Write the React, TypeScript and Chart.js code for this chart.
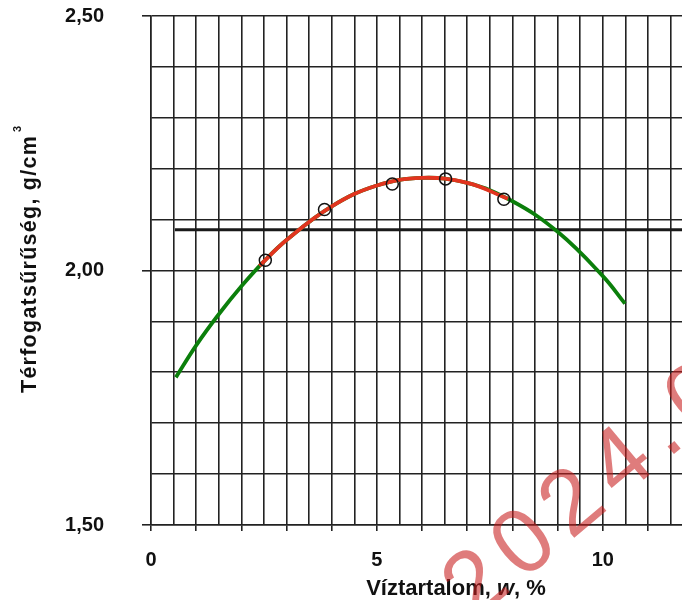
import React, { useEffect, useRef } from 'react';
import { Chart, registerables } from 'chart.js';

Chart.register(...registerables);

// Tick labels shown on the axes
const xTicksLabelled = [0, 5, 10];
const yTicksLabelled = [1.5, 2.0, 2.5];

// Measured points (water content %, bulk density g/cm3)
const measuredW = [2.53, 3.84, 5.34, 6.52, 7.81];
const measuredRho = [2.02, 2.12, 2.17, 2.18, 2.14];

// Fitted curve (green, full length)
const fitW = [0.55, 1, 1.5, 2, 2.5, 3, 4, 5, 6, 7, 8, 9, 10, 10.49];
const fitRho = [1.79, 1.853, 1.914, 1.969, 2.018, 2.06, 2.126, 2.167, 2.182, 2.172, 2.136, 2.076, 1.989, 1.935];

// Fitted curve over the measured range (red)
const fitRedW = [2.4, 3, 4, 5, 6, 7, 7.9];
const fitRedRho = [2.009, 2.06, 2.126, 2.167, 2.182, 2.172, 2.141];

// Horizontal reference line
const refLineW = [0.53, 13.5];
const refLineRho = [2.08, 2.08];

const FONT = "Arial, 'Liberation Sans', Helvetica, sans-serif";

const pt = (xs: number[], ys: number[]) => xs.map((x, i) => ({ x, y: ys[i] }));

const textPlugin = {
  id: 'customTexts',
  afterDraw(chart: any) {
    const ctx = chart.ctx as CanvasRenderingContext2D;
    const area = chart.chartArea;
    // X axis title with italic "w"
    ctx.save();
    ctx.fillStyle = '#111';
    ctx.textBaseline = 'alphabetic';
    ctx.textAlign = 'left';
    const parts: [string, string][] = [
      ['Víztartalom, ', `bold 22px ${FONT}`],
      ['w', `italic bold 22px ${FONT}`],
      [', %', `bold 22px ${FONT}`],
    ];
    let total = 0;
    for (const [t, f] of parts) { ctx.font = f; total += ctx.measureText(t).width; }
    let x = (area.left + area.right) / 2 - total / 2;
    for (const [t, f] of parts) { ctx.font = f; ctx.fillText(t, x, 595); x += ctx.measureText(t).width; }
    ctx.restore();

    // Y axis title
    ctx.save();
    ctx.fillStyle = '#111';
    ctx.translate(36, 393);
    ctx.rotate(-Math.PI / 2);
    ctx.textAlign = 'left';
    ctx.textBaseline = 'alphabetic';
    const main = 'Térfogatsűrűség, g/cm';
    ctx.font = `bold 21.5px ${FONT}`;
    const natural = ctx.measureText(main).width;
    const ls = Math.max(0, (258 - natural) / main.length);
    (ctx as any).letterSpacing = `${ls}px`;
    ctx.fillText(main, 0, 0);
    const w = ctx.measureText(main).width;
    (ctx as any).letterSpacing = '0px';
    ctx.font = `bold 11px ${FONT}`;
    ctx.fillText('3', w + 3, -15);
    ctx.restore();

    // Watermark
    ctx.save();
    ctx.fillStyle = 'rgba(200,30,30,0.58)';
    ctx.font = `normal 92px ${FONT}`;
    (ctx as any).letterSpacing = '12px';
    ctx.translate(474, 622);
    ctx.rotate((-40 * Math.PI) / 180);
    ctx.textBaseline = 'alphabetic';
    ctx.textAlign = 'left';
    ctx.fillText('2024.0', 0, 0);
    ctx.restore();
  },
};

export default function App() {
  const ref = useRef<HTMLCanvasElement>(null);
  useEffect(() => {
    const canvas = ref.current!;
    const gridColor = '#222';
    const near = (v: number, arr: number[]) => arr.some((a) => Math.abs(a - v) < 1e-6);
    const chart = new Chart(canvas, {
      type: 'scatter',
      data: {
        datasets: [
          {
            label: 'Mért pontok',
            data: pt(measuredW, measuredRho),
            showLine: false,
            pointRadius: 6,
            pointHoverRadius: 6,
            pointBorderColor: '#111',
            pointBorderWidth: 1.5,
            pointBackgroundColor: 'rgba(0,0,0,0)',
            order: 0,
          },
          {
            label: 'Illesztés (mért tartomány)',
            data: pt(fitRedW, fitRedRho),
            showLine: true,
            borderColor: '#e2341f',
            borderWidth: 3.8,
            pointRadius: 0,
            tension: 0.4,
            order: 1,
          },
          {
            label: 'Illesztés',
            data: pt(fitW, fitRho),
            showLine: true,
            borderColor: '#0b7f0b',
            borderWidth: 3.8,
            pointRadius: 0,
            tension: 0.4,
            order: 2,
          },
          {
            label: 'Referencia',
            data: pt(refLineW, refLineRho),
            showLine: true,
            borderColor: '#1a1a1a',
            borderWidth: 3,
            pointRadius: 0,
            tension: 0,
            order: 3,
          },
        ],
      },
      options: {
        responsive: false,
        animation: false,
        devicePixelRatio: 1,
        layout: { autoPadding: false, padding: { top: 16, left: 0, right: 0, bottom: 0 } },
        plugins: { legend: { display: false }, tooltip: { enabled: false } },
        scales: {
          x: {
            type: 'linear',
            min: 0,
            max: 13.5,
            afterFit: (s: any) => {
              s.height = 75;
              s.paddingLeft = 0; s.paddingRight = 0; s.paddingTop = 0; s.paddingBottom = 0;
            },
            border: { display: true, color: gridColor, width: 1.5 },
            grid: {
              color: gridColor,
              lineWidth: 1.6,
              tickLength: 6,
              tickWidth: 1.6,
              tickColor: (c: any) => (Math.abs(c.tick.value - Math.round(c.tick.value)) < 1e-6 ? gridColor : 'rgba(0,0,0,0)'),
            },
            ticks: {
              stepSize: 0.5,
              maxTicksLimit: 1000,
              autoSkip: false,
              maxRotation: 0,
              padding: 17,
              color: '#111',
              font: { family: FONT, size: 20, weight: 'bold' },
              callback: (v: any) => (near(Number(v), xTicksLabelled) ? String(Math.round(Number(v))) : ''),
            },
          },
          y: {
            type: 'linear',
            min: 1.5,
            max: 2.5,
            afterFit: (s: any) => {
              s.width = 151;
              s.paddingLeft = 0; s.paddingRight = 0; s.paddingTop = 0; s.paddingBottom = 0;
            },
            border: { display: true, color: gridColor, width: 1.5 },
            grid: {
              color: gridColor,
              lineWidth: 1.6,
              tickLength: 9,
              tickWidth: 1.6,
              tickColor: (c: any) => (near(c.tick.value, yTicksLabelled) ? gridColor : 'rgba(0,0,0,0)'),
            },
            ticks: {
              stepSize: 0.1,
              maxTicksLimit: 1000,
              autoSkip: false,
              padding: 38,
              color: '#111',
              font: { family: FONT, size: 20, weight: 'bold' },
              callback: (v: any) => (near(Number(v), yTicksLabelled) ? Number(v).toFixed(2).replace('.', ',') : ''),
            },
          },
        },
      },
      plugins: [textPlugin],
    } as any);
    return () => chart.destroy();
  }, []);
  return (
    <div style={{ position: 'absolute', left: 0, top: 0, width: 682, height: 600, overflow: 'hidden', background: '#fff' }}>
      <canvas ref={ref} width={761} height={600} style={{ display: 'block', width: 761, height: 600 }} />
    </div>
  );
}
